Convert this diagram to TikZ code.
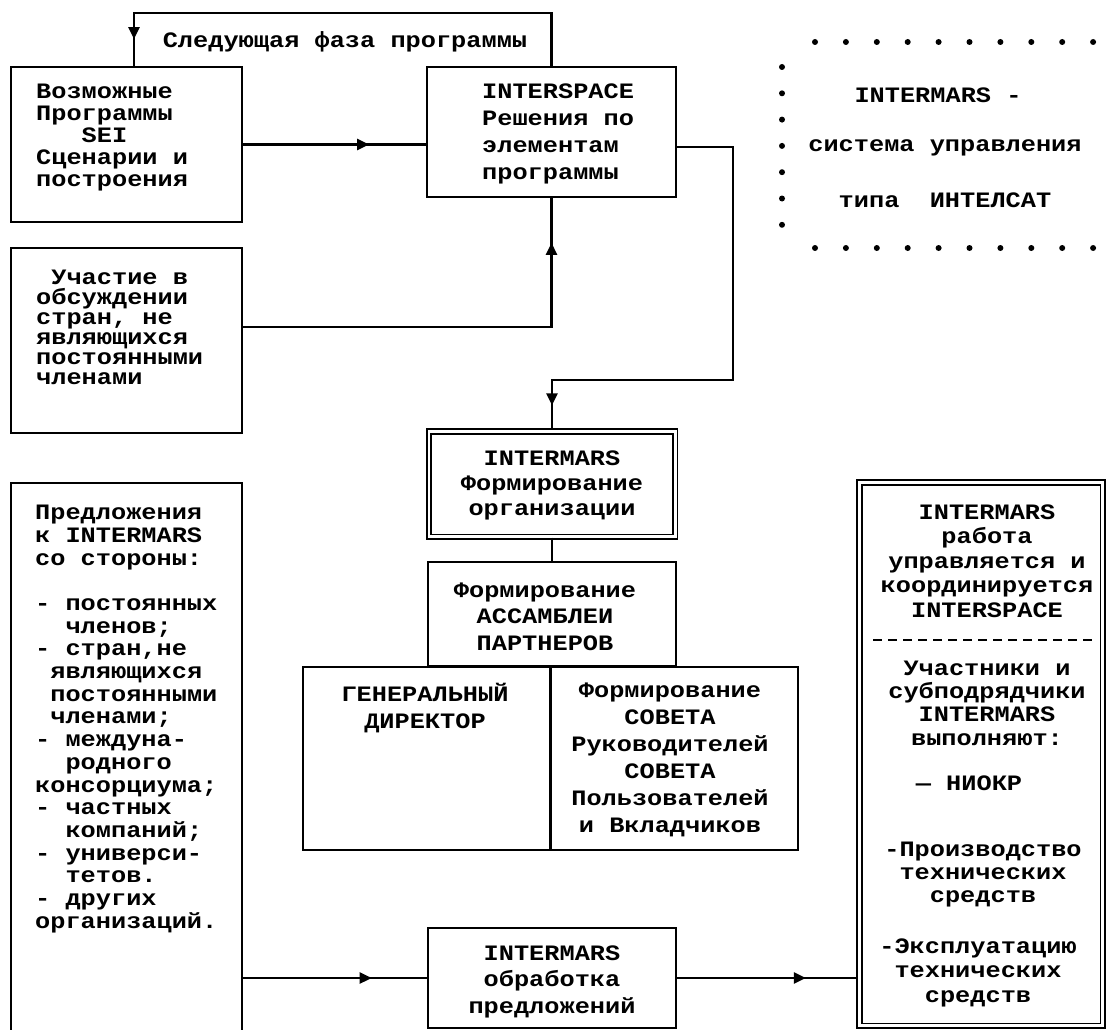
\documentclass[tikz,border=0pt]{standalone}
\usepackage{fontspec}
\newfontfamily\typewriter{Liberation Mono}[FakeStretch=1.15]
\usepackage{tikz}
\usetikzlibrary{arrows.meta, decorations.markings}

\tikzset{
  box/.style={draw, line width=2.4pt, inner sep=0pt},
  dbox/.style={draw, double, line width=1.9pt, double distance=2.6pt, inner sep=0pt},
  txt/.style={font=\typewriter\bfseries\fontsize{22}{#1}\selectfont, inner sep=0pt, align=center},
  txt/.default=24,
  con/.style={line width=2.4pt},
  tipat/.style={postaction={decorate}, decoration={markings, mark=at position #1 with {\arrow{Triangle[length=12pt, width=11pt]}}}},
}

\begin{document}
\begin{tikzpicture}[x=1pt, y=-1pt]
    \useasboundingbox (0,0) rectangle (1108,1030);
    % Boxes
    \node[box, minimum width=231pt, minimum height=155pt] (progs) at (126.5,144.5) {};
    \node[box, minimum width=249pt, minimum height=130pt] (space) at (551.5,132) {};
    \node[box, minimum width=231pt, minimum height=185pt] (guests) at (126.5,340.5) {};
    \node[dbox, minimum width=246.4pt, minimum height=105.4pt] (forming) at (552,484) {};
    \node[box, minimum width=248pt, minimum height=104pt] (assembly) at (552,614) {};
    \node[box, minimum width=495pt, minimum height=183pt] (council) at (550.5,758.5) {};
    \node[box, minimum width=231pt, minimum height=557pt] (offers) at (126.5,761.5) {};
    \node[box, minimum width=248pt, minimum height=100pt] (review) at (552,978) {};
    \node[dbox, minimum width=243.4pt, minimum height=543.4pt] (works) at (981,754) {};
    % Texts in the boxes
    \node[txt=22, align=left, anchor=west] (progst) at (36,137.5) {Возможные\\Программы\\\hphantom{xxx}SEI\\Сценарии и\\построения};
    \node[txt=27, align=left, anchor=west] (spacet) at (482,134) {INTERSPACE\\Решения по\\элементам\\программы};
    \node[txt=20, align=left, anchor=west] (guestst) at (36,327) {\hphantom{x}Участие в\\обсуждении\\стран, не\\являющихся\\постоянными\\членами};
    \node[txt=25] (formingt) at (552,485) {INTERMARS\\Формирование\\организации};
    \node[txt=26.5] (assemblyt) at (545,616.5) {Формирование\\АССАМБЛЕИ\\ПАРТНЕРОВ};
    \node[txt=27] (directort) at (425,708.5) {ГЕНЕРАЛЬНЫЙ\\ДИРЕКТОР};
    \node[txt=27] (councilt) at (670,760) {Формирование\\СОВЕТА\\Руководителей\\СОВЕТА\\Пользователей\\и Вкладчиков};
    \node[txt=26.5] (reviewt) at (552,981.5) {INTERMARS\\обработка\\предложений};
    \node[txt=22.7, align=left, anchor=west] (offerst) at (35,719) {Предложения\\к INTERMARS\\со стороны:\\[22.7pt]- постоянных\\\hphantom{xx}членов;\\- стран,не\\\hphantom{x}являющихся\\\hphantom{x}постоянными\\\hphantom{x}членами;\\- междуна-\\\hphantom{xx}родного\\консорциума;\\- частных\\\hphantom{xx}компаний;\\- универси-\\\hphantom{xx}тетов.\\- других\\организаций.};
    \node[txt=24.5] (workst) at (987,561) {INTERMARS\\работа\\управляется и\\координируется\\INTERSPACE};
    \draw[line width=2pt, dash pattern=on 9pt off 6pt] (873,640) -- (1097,640);
    \node[txt=23.3] (partnerst) at (987,703) {Участники и\\субподрядчики\\INTERMARS\\выполняют:};
    \node[txt] (rdt) at (969,783) {— НИОКР};
    \node[txt=23] (productiont) at (983,875) {-Производство\\технических\\средств};
    \node[txt=24.5] (operationt) at (978,972.5) {-Эксплуатацию\\технических\\средств};
    % Dotted frame
    \foreach \i in {0,...,9} {
        \fill (815+30.9*\i,42) circle[radius=3pt];
        \fill (815+30.9*\i,248) circle[radius=3pt];
    }
    \foreach \j in {0,...,6}
        \fill (782,67+26.3*\j) circle[radius=3pt];
    \node[txt] (marst) at (938,95) {INTERMARS -};
    \node[txt] (controlt) at (945,148) {система управления};
    \node[txt] (typet) at (945,200) {типа~~ИНТЕЛСАТ};
    % Connectors
    \coordinate (phase) at (134,13);
    \coordinate (turn) at (733,380);
    \draw[con, tipat=0.949] (space.north) |- (phase) -- (phase |- progs.north);
    \node[txt] (phaset) at (345,42) {Следующая фаза программы};
    \draw[con, tipat=0.69] (progs.east) -- (progs.east -| space.west);
    \draw[con, tipat=0.898] ([yshift=13.5pt]guests.east) -| (space.south);
    \draw[con, tipat=0.952] ([yshift=-15pt]space.east) -| (turn) -| (forming.north);
    \draw[con] (forming.south) -- (assembly.north);
    \draw[con] (council.north) -- (council.south);
    \draw[con, tipat=0.70] (review.west -| offers.east) -- (review.west);
    \draw[con, tipat=0.71] (review.east) -- (review.east -| works.west);
\end{tikzpicture}
\end{document}
